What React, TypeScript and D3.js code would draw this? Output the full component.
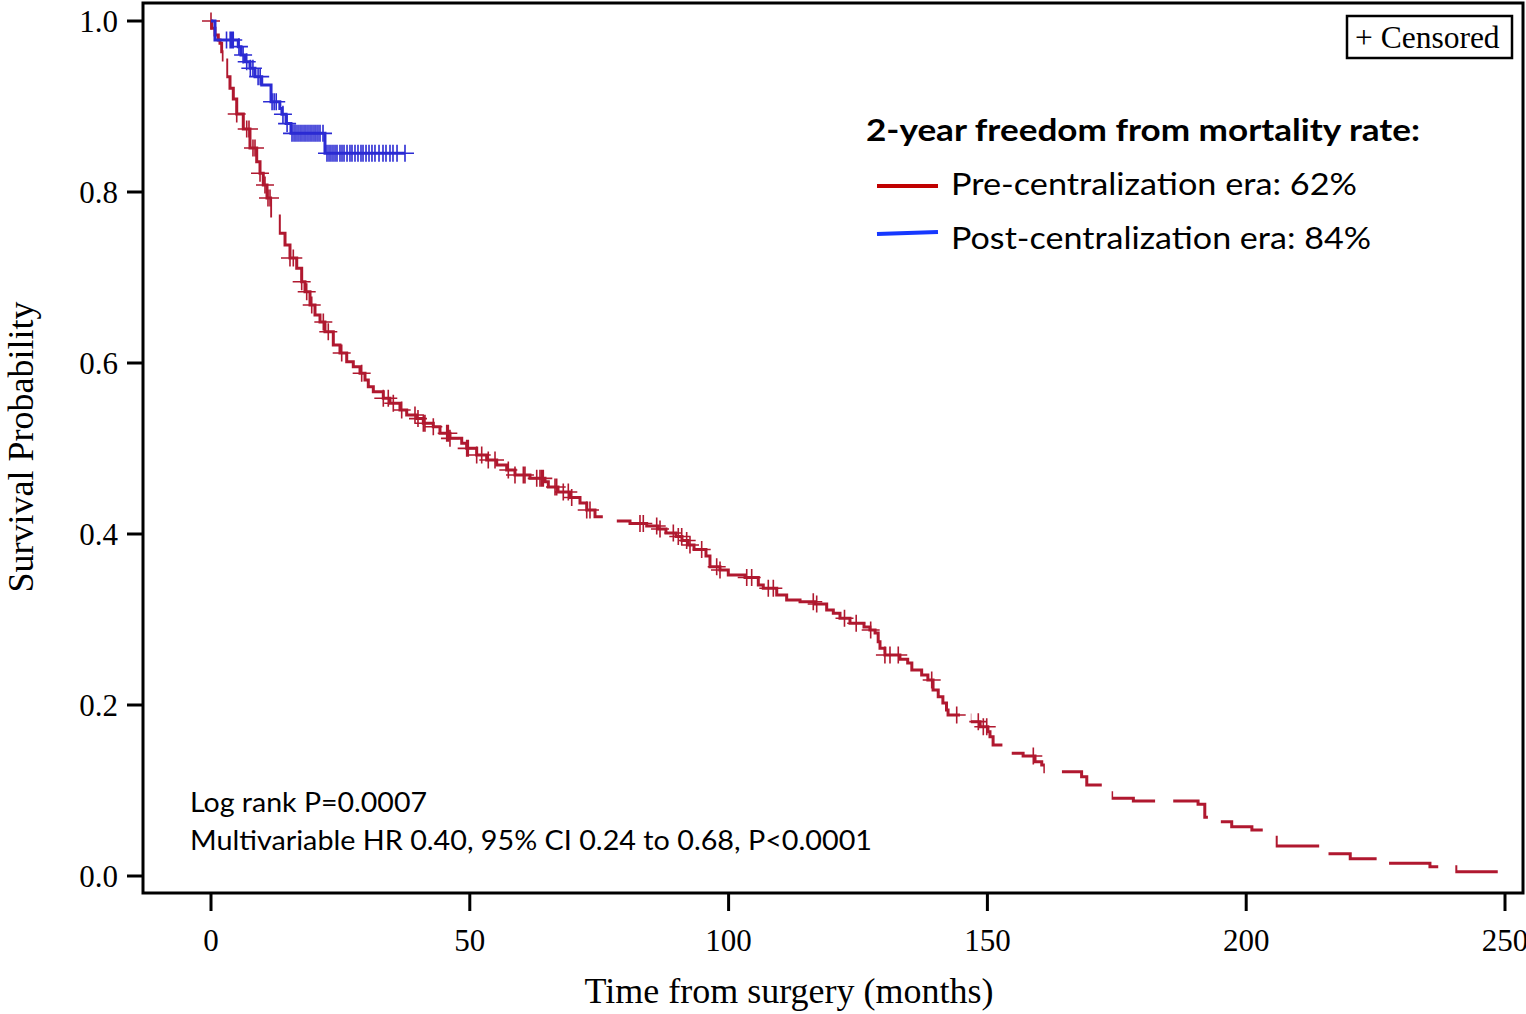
import React from 'react';
import * as d3 from 'd3';

// Kaplan-Meier estimate, pre-centralization era (months, survival after each drop)
const preTimes = [
  0, 0.14, 0.77, 1.41, 1.74, 2.07, 2.38, 3.03, 3.67, 4.31,
  4.97, 6.24, 7.53, 8.83, 9.47, 10.1, 10.82, 11.73, 13.2, 14.3,
  15.26, 16.56, 17.52, 18.16, 19.13, 20.09, 21.06, 22.02, 23.63, 24.92,
  26.22, 27.49, 28.79, 29.75, 30.39, 31.36, 33.29, 34.58, 36.51, 37.81,
  39.74, 41.02, 42.95, 44.24, 46.17, 48.44, 49.4, 51.33, 53.26, 55.2,
  57.13, 58.73, 61.63, 64.53, 65.17, 67.04, 69.36, 71.29, 72.59, 74.19,
  77.09, 80.95, 84.18, 86.36, 87.9, 89.84, 91.0, 92.16, 93.32, 95.63,
  96.4, 98.33, 99.94, 103.17, 105.74, 106.7, 109.3, 111.22, 113.8, 116.7,
  118.95, 120.23, 121.52, 123.45, 126.16, 127.3, 128.3, 128.9, 129.25, 130.2,
  133.1, 134.6, 135.4, 137.3, 138.5, 139.5, 140.5, 141.4, 142.1, 142.4,
  146.6, 148.6, 150.1, 150.5, 151.1, 154.0, 156.9, 159.2, 160.5, 161.1,
  168.2, 169.2, 172.9, 174.0, 178.2, 190.7, 192.0, 194.0, 197.2, 201.1,
  204.4, 205.8, 215.2, 220.1, 226.5, 235.5, 240.5,
];
const preSurv = [
  1.0, 0.9915, 0.9836, 0.9778, 0.9739, 0.964, 0.9544, 0.9349, 0.9213, 0.9088,
  0.8912, 0.8737, 0.8515, 0.8354, 0.8219, 0.8082, 0.793, 0.7719, 0.7517, 0.738,
  0.7228, 0.7108, 0.6951, 0.6834, 0.6678, 0.6561, 0.648, 0.6366, 0.6211, 0.6117,
  0.6015, 0.5957, 0.588, 0.58, 0.5723, 0.5664, 0.5587, 0.5529, 0.545, 0.5392,
  0.535, 0.5295, 0.5255, 0.5178, 0.5119, 0.5061, 0.5002, 0.4924, 0.4865, 0.4807,
  0.4749, 0.469, 0.4651, 0.4612, 0.455, 0.4491, 0.4427, 0.4363, 0.4281, 0.4202,
  0.4152, 0.4123, 0.4094, 0.4058, 0.4012, 0.3971, 0.3924, 0.3871, 0.3819, 0.3743,
  0.3617, 0.3579, 0.352, 0.3491, 0.3404, 0.3365, 0.3287, 0.3228, 0.3208, 0.3181,
  0.3111, 0.3072, 0.3014, 0.2956, 0.2912, 0.2877, 0.2842, 0.274, 0.2663, 0.2585,
  0.2534, 0.2491, 0.2409, 0.2351, 0.2292, 0.2175, 0.2097, 0.2023, 0.1942, 0.1883,
  0.1805, 0.1746, 0.1688, 0.1629, 0.1532, 0.1435, 0.1404, 0.1337, 0.1298, 0.122,
  0.1161, 0.1064, 0.0974, 0.091, 0.0877, 0.0839, 0.0687, 0.0635, 0.0577, 0.0538,
  0.0453, 0.0351, 0.0261, 0.0202, 0.0149, 0.0109, 0.005,
];
const preEnd = 248.6;
const preCensored = [
  0.0, 4.97, 6.9, 7.34, 8.11, 8.5, 9.47, 10.43, 11.01, 11.4,
  15.26, 15.9, 17.52, 18.49, 19.46, 21.7, 22.66, 25.25, 29.11, 33.29,
  34.25, 35.22, 36.84, 39.41, 39.99, 41.02, 41.34, 42.95, 45.54, 45.85,
  46.17, 49.4, 49.71, 51.33, 52.3, 53.57, 54.87, 57.44, 58.73, 60.34,
  60.66, 62.93, 63.56, 63.89, 64.2, 66.46, 66.79, 68.06, 69.03, 69.69,
  72.59, 73.22, 82.88, 83.52, 86.11, 86.75, 89.32, 90.28, 90.94, 91.9,
  92.54, 94.8, 97.7, 98.34, 103.5, 104.46, 107.67, 108.64, 116.36, 117.02,
  122.39, 124.65, 127.45, 130.2, 131.18, 132.78, 139.24, 144.07, 148.24, 149.21,
  149.87, 158.87,
];
// month intervals where the pre-era curve is not inked
const preBreaks = [
  [2.42, 2.95], [11.8, 13.1], [75.7, 78.4], [144.7, 146.8], [152.9, 154.7],
  [161.1, 164.4], [172.1, 174.0], [182.4, 185.9], [192.6, 195.1], [203.2, 205.7],
  [214.1, 215.9], [225.2, 227.6], [237.1, 240.4],
];

// Kaplan-Meier estimate, post-centralization era
const postTimes = [0, 0.77, 5.27, 5.8, 6.57, 7.53, 8.5, 9.8, 11.6, 13.3, 13.7, 14.5, 15.45, 22.02];
const postSurv = [1.0, 0.9778, 0.97, 0.9602, 0.9524, 0.9447, 0.9349, 0.9251, 0.9056, 0.8977, 0.891, 0.88, 0.8686, 0.8453];
const postEnd = 37.48;
const postCensored = [
  3.0, 3.7, 4.0, 4.3, 5.4, 6.2, 6.9, 7.6, 8.1, 9.1,
  9.5, 11.8, 12.2, 12.6, 13.9, 14.7, 15.65, 16.04, 16.42, 16.81,
  17.2, 17.58, 17.97, 18.35, 18.74, 19.13, 19.51, 19.9, 20.28, 20.67,
  21.06, 21.64, 22.41, 22.8, 23.18, 23.57, 23.96, 24.34, 24.92, 25.31,
  25.7, 26.28, 26.85, 27.24, 27.82, 28.4, 28.98, 29.37, 29.95, 30.53,
  31.1, 31.68, 32.46, 33.23, 33.81, 34.58, 35.16, 35.94, 37.48,
];

const xTicks = [0, 50, 100, 150, 200, 250];
const yTicks = [0, 0.2, 0.4, 0.6, 0.8, 1.0];

const legendTitle = '2-year freedom from mortality rate:';
const legendLabels = ['Pre-centralization era: 62%', 'Post-centralization era: 84%'];
const statLines = ['Log rank P=0.0007', 'Multivariable HR 0.40, 95% CI 0.24 to 0.68, P<0.0001'];

const RED = '#b0182f';
const BLUE = '#2b2bd3';
const SERIF = '"Liberation Serif", "Times New Roman", serif';
const SANS = 'Lato, "Open Sans", sans-serif';

const W = 1526;
const H = 1014;
const frame = { left: 143, top: 3, right: 1523, bottom: 893 };

function survivalAt(times: number[], surv: number[], t: number) {
  const i = d3.bisectRight(times, t) - 1;
  return surv[Math.max(0, i)];
}

export default function App() {
  const x = d3.scaleLinear().domain([0, 250]).range([211, 1505]);
  const y = d3.scaleLinear().domain([0, 1]).range([876, 21]);

  const step = d3
    .line<[number, number]>()
    .x((d) => x(d[0]))
    .y((d) => y(d[1]))
    .curve(d3.curveStepAfter);

  const prePts: [number, number][] = preTimes.map((t, i) => [t, preSurv[i]]);
  prePts.push([preEnd, preSurv[preSurv.length - 1]]);
  const postPts: [number, number][] = postTimes.map((t, i) => [t, postSurv[i]]);
  postPts.push([postEnd, postSurv[postSurv.length - 1]]);

  const plus = (cx: number, cy: number) =>
    `M${cx - 9},${cy}H${cx + 9}M${cx},${cy - 8.5}V${cy + 8.5}`;

  const preMarks = preCensored
    .map((t) => plus(x(t), y(survivalAt(preTimes, preSurv, t))))
    .join('');
  const postMarks = postCensored
    .map((t) => plus(x(t), y(survivalAt(postTimes, postSurv, t))))
    .join('');

  return (
    <svg
      width={W}
      height={H}
      viewBox={`0 0 ${W} ${H}`}
      style={{ position: 'absolute', left: 0, top: 0, background: '#fff' }}
    >
      <defs>
        <mask id="preInk" maskUnits="userSpaceOnUse" x={0} y={0} width={W} height={H}>
          <rect x={0} y={0} width={W} height={H} fill="#fff" />
          {preBreaks.map(([a, b], i) => (
            <rect key={i} x={x(a)} y={0} width={x(b) - x(a)} height={H} fill="#000" />
          ))}
        </mask>
      </defs>

      {/* frame */}
      <rect
        x={frame.left}
        y={frame.top}
        width={frame.right - frame.left}
        height={frame.bottom - frame.top}
        fill="none"
        stroke="#000"
        strokeWidth={3}
      />

      {/* y axis */}
      {yTicks.map((v) => (
        <g key={`y${v}`}>
          <line x1={frame.left - 16} x2={frame.left} y1={y(v)} y2={y(v)} stroke="#000" strokeWidth={3} />
          <text
            x={frame.left - 25}
            y={y(v)}
            dy="0.34em"
            textAnchor="end"
            fontFamily={SERIF}
            fontSize={31}
          >
            {v.toFixed(1)}
          </text>
        </g>
      ))}

      {/* x axis */}
      {xTicks.map((v) => (
        <g key={`x${v}`}>
          <line x1={x(v)} x2={x(v)} y1={frame.bottom} y2={frame.bottom + 18} stroke="#000" strokeWidth={3} />
          <text x={x(v)} y={951} textAnchor="middle" fontFamily={SERIF} fontSize={31}>
            {v}
          </text>
        </g>
      ))}

      <text
        transform="translate(33,447) rotate(-90)"
        textAnchor="middle"
        fontFamily={SERIF}
        fontSize={36}
      >
        Survival Probability
      </text>
      <text x={789} y={1003} textAnchor="middle" fontFamily={SERIF} fontSize={36}>
        Time from surgery (months)
      </text>

      {/* survival curves */}
      <path d={step(prePts) || ''} fill="none" stroke={RED} strokeWidth={3} mask="url(#preInk)" />
      <path d={preMarks} fill="none" stroke={RED} strokeWidth={1.6} />
      <path d={step(postPts) || ''} fill="none" stroke={BLUE} strokeWidth={3} />
      <path d={postMarks} fill="none" stroke={BLUE} strokeWidth={1.6} />

      {/* censored key */}
      <rect x={1347} y={16} width={165} height={42} fill="#fff" stroke="#000" strokeWidth={2.5} />
      <text x={1355} y={48} fontFamily={SERIF} fontSize={31.5}>
        + Censored
      </text>

      {/* legend */}
      <text
        x={866}
        y={141}
        fontFamily={SANS}
        fontWeight={700}
        fontSize={31}
        textLength={554}
        lengthAdjust="spacingAndGlyphs"
      >
        {legendTitle}
      </text>
      <line x1={877} x2={938} y1={186} y2={186} stroke="#c00000" strokeWidth={4} />
      <text x={951} y={195} fontFamily={SANS} fontSize={30} textLength={406} lengthAdjust="spacingAndGlyphs">
        {legendLabels[0]}
      </text>
      <line x1={877} x2={938} y1={234} y2={232} stroke="#1638ff" strokeWidth={4} />
      <text x={951} y={249} fontFamily={SANS} fontSize={30} textLength={420} lengthAdjust="spacingAndGlyphs">
        {legendLabels[1]}
      </text>

      {/* test statistics */}
      <text x={190} y={812} fontFamily={SANS} fontSize={27} textLength={237} lengthAdjust="spacingAndGlyphs">
        {statLines[0]}
      </text>
      <text x={190} y={850} fontFamily={SANS} fontSize={27} textLength={682} lengthAdjust="spacingAndGlyphs">
        {statLines[1]}
      </text>
    </svg>
  );
}
